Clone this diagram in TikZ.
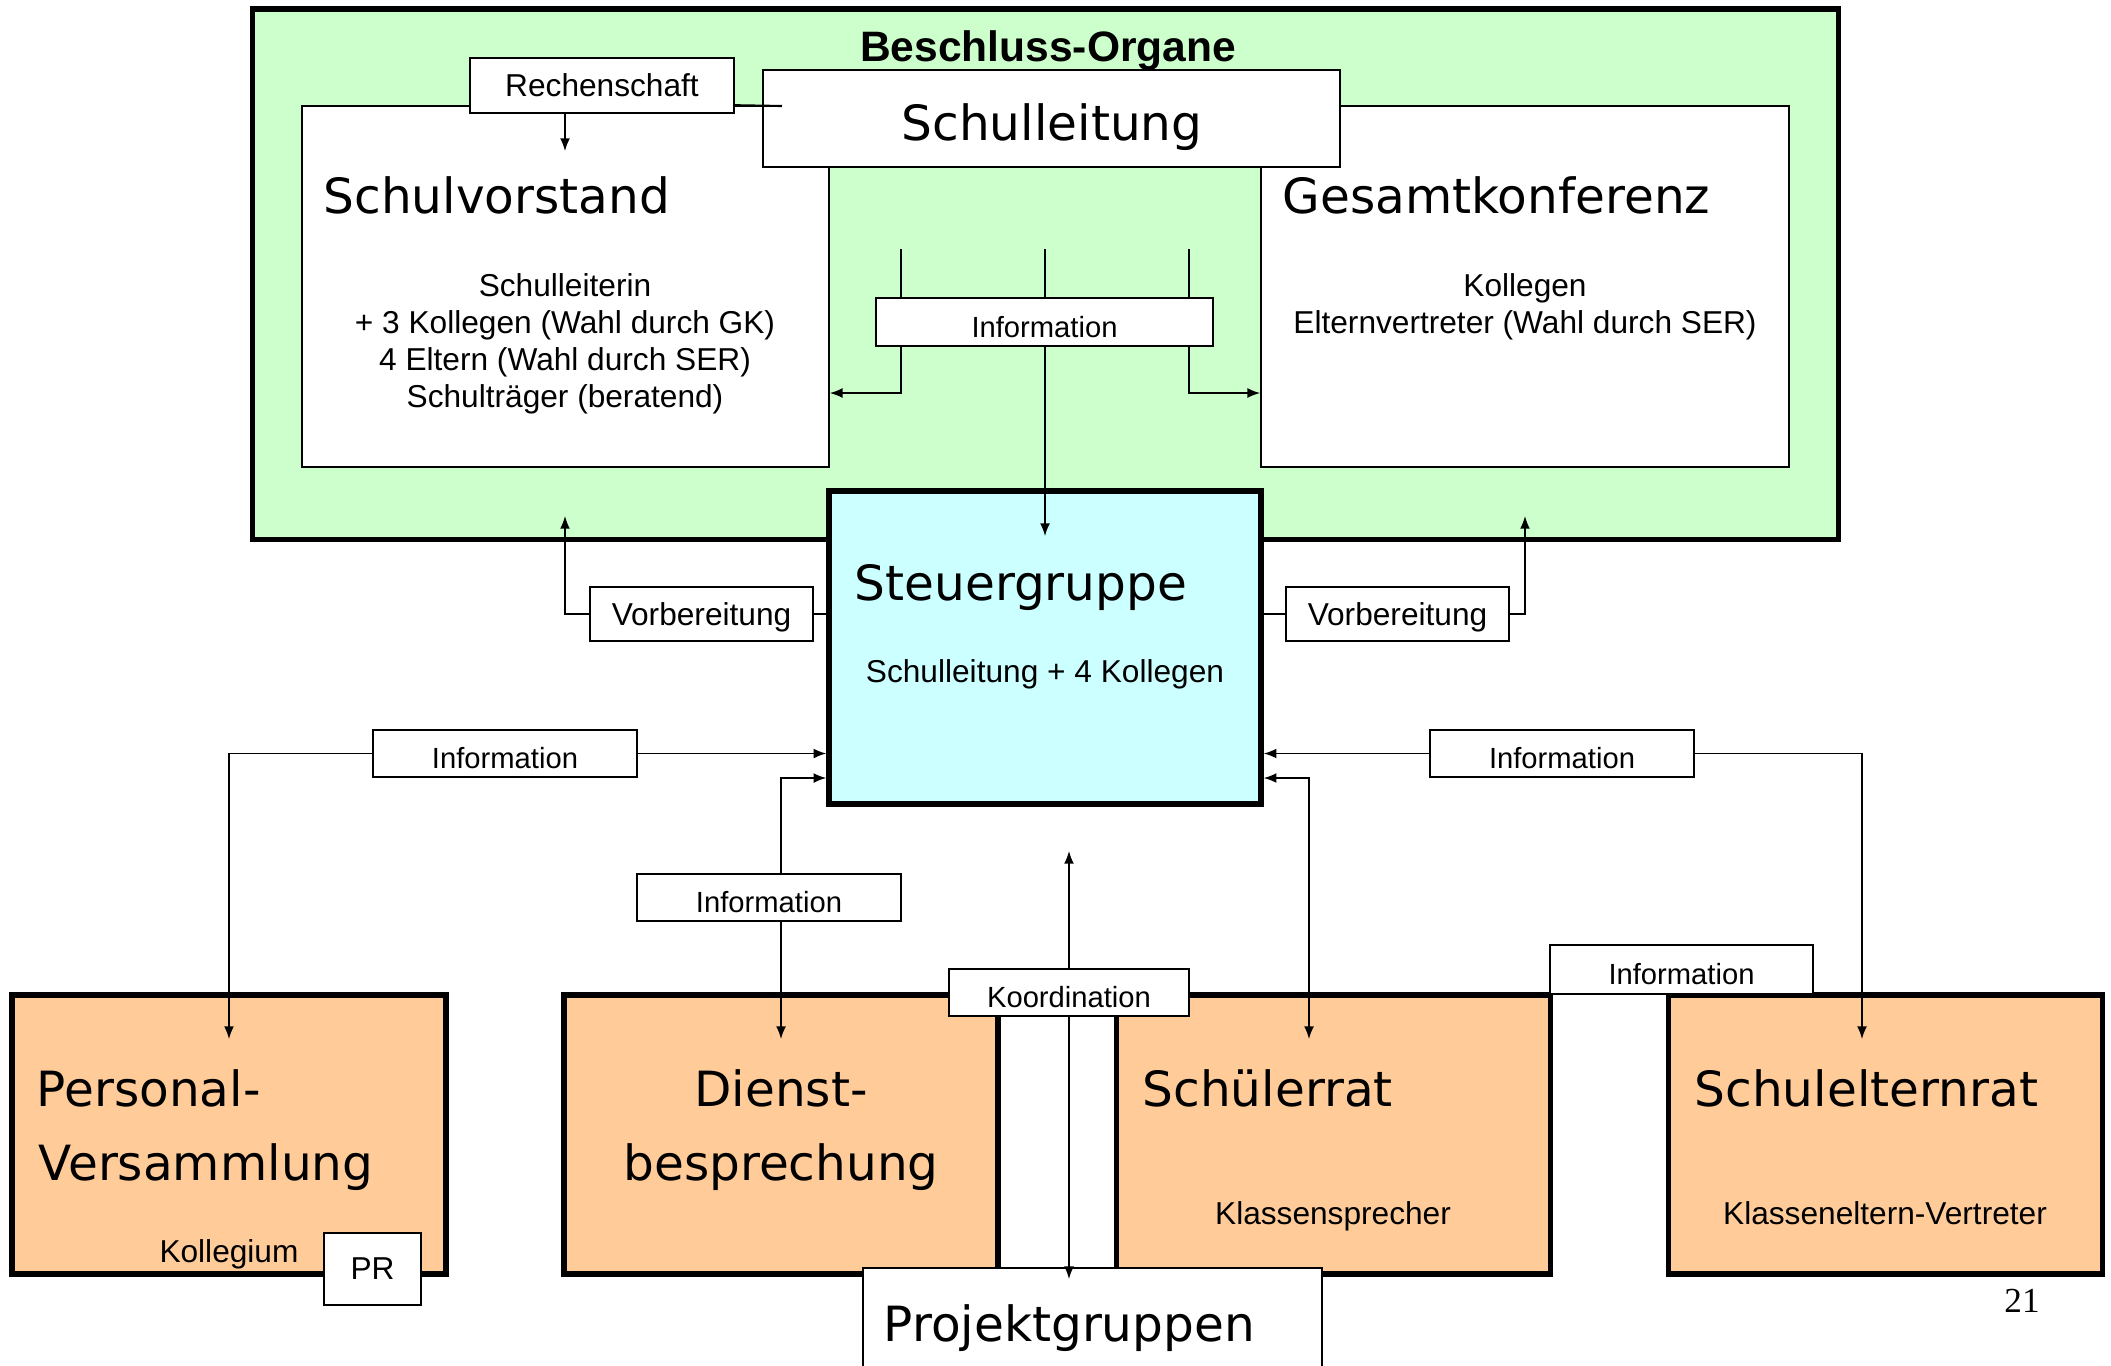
\documentclass[tikz,border=0pt]{standalone}
\usepackage{fontspec}
\setmainfont{Liberation Sans}
\newfontfamily\comicfont{DejaVu Sans}
\newfontfamily\zahlfont{Liberation Serif}
\usetikzlibrary{arrows.meta}

\definecolor{gruen}{HTML}{CCFFCC}
\definecolor{hellblau}{HTML}{CCFFFF}
\definecolor{pfirsich}{HTML}{FFCC99}

\tikzset{
 organ/.style={draw, fill=white, inner sep=0pt},
 gremium/.style={draw, line width=1.5pt, inner sep=0pt},
 kasten/.style={draw, fill=white, inner sep=0pt, text depth=0pt, font=\fontsize{9pt}{10.5pt}\selectfont},
 info/.style={kasten, minimum width=2.64cm, minimum height=0.47cm, text height=8.6pt, font=\fontsize{8.3pt}{10pt}\selectfont},
 titel/.style={inner sep=0pt, anchor=base west, font=\comicfont\fontsize{13.8pt}{16pt}\selectfont},
 inhalt/.style={inner sep=0pt, align=center, font=\fontsize{9pt}{10.5pt}\selectfont},
}

\begin{document}
\begin{tikzpicture}[x=0.01cm, y=-0.01cm, >={Latex[length=3.6pt,width=2.8pt]}]
 \useasboundingbox (0,0) rectangle (2111,1365); %Rand
 % Beschluss-Organe
 \node[gremium, fill=gruen, minimum width=15.85cm, minimum height=5.30cm] (BO) at (1045.5,274) {}; %gruener Rahmen
 \node[inner sep=0pt, anchor=base, font=\bfseries\fontsize{12.1pt}{14pt}\selectfont] (BOtitel) at (1048,61) {Beschluss-Organe};
 \node[organ, minimum width=5.27cm, minimum height=3.61cm] (SV) at (565.5,286.5) {}; %Schulvorstand
 \node[titel] (SVtitel) at (323,213) {Schulvorstand};
 \node[inhalt, anchor=north] (SVtext) at (565,273) {Schulleiterin\\+ 3 Kollegen (Wahl durch GK)\\4 Eltern (Wahl durch SER)\\Schultr\"ager (beratend)};
 \node[organ, minimum width=5.28cm, minimum height=3.61cm] (GK) at (1525,286.5) {}; %Gesamtkonferenz
 \node[titel] (GKtitel) at (1282,213) {Gesamtkonferenz};
 \node[inhalt, anchor=north] (GKtext) at (1525,273) {Kollegen\\Elternvertreter (Wahl durch SER)};
 \node[kasten, minimum width=2.64cm, minimum height=0.55cm] (RS) at (602,85.5) {Rechenschaft};
 \node[organ, minimum width=5.77cm, minimum height=0.97cm] (SL) at (1051.5,118.5) {}; %Schulleitung
 \node[titel, anchor=base] (SLtitel) at (1052,140) {Schulleitung};
 \coordinate (stub) at (782,106); %Ende Strich
 \draw[semithick] (RS.east |- SV.north) -- (stub);
 \coordinate (RSpfeil) at (565,151); %Pfeil Rechenschaft
 \draw[->] (RS.south -| RSpfeil) -- (RSpfeil);
 % Information oben
 \node[info, minimum width=3.37cm, minimum height=0.48cm] (InfoO) at (1044.5,322) {Information};
 \coordinate (Ol) at (901,249); %links
 \coordinate (Om) at (1045,249); %Mitte
 \coordinate (Or) at (1189,249); %rechts
 \draw (Ol) -- (InfoO.north -| Ol);
 \draw (Om) -- (InfoO.north -| Om);
 \draw (Or) -- (InfoO.north -| Or);
 \draw[->] (InfoO.south -| Ol) |- (SV.east |- 0,393);
 \draw[->] (InfoO.south -| Or) |- (GK.west |- 0,393);
 % Steuergruppe
 \node[gremium, fill=hellblau, minimum width=4.32cm, minimum height=3.13cm] (SG) at (1045,647.5) {};
 \node[titel] (SGtitel) at (854,600) {Steuergruppe};
 \node[inhalt, anchor=base] (SGtext) at (1045,682) {Schulleitung + 4 Kollegen};
 \coordinate (SGpfeil) at (1045,536); %Pfeilspitze
 \draw[->] (InfoO.south -| Om) -- (SGpfeil);
 % Vorbereitung
 \node[kasten, minimum width=2.23cm, minimum height=0.54cm] (VL) at (701.5,614) {Vorbereitung};
 \node[kasten, minimum width=2.23cm, minimum height=0.54cm] (VR) at (1397.5,614) {Vorbereitung};
 \coordinate (SVauf) at (565,516); %Pfeil links
 \coordinate (GKauf) at (1525,516); %Pfeil rechts
 \draw (VL.east) -- (VL.east -| SG.west);
 \draw[->] (VL.west) -| (SVauf);
 \draw (VR.west) -- (VR.west -| SG.east);
 \draw[->] (VR.east) -| (GKauf);
 % untere Gremien
 \node[gremium, fill=pfirsich, minimum width=4.34cm, minimum height=2.79cm] (PV) at (229,1134.5) {};
 \node[gremium, fill=pfirsich, minimum width=4.34cm, minimum height=2.79cm] (DB) at (781,1134.5) {};
 \node[gremium, fill=pfirsich, minimum width=4.34cm, minimum height=2.79cm] (SR) at (1333.5,1134.5) {};
 \node[gremium, fill=pfirsich, minimum width=4.34cm, minimum height=2.79cm] (SE) at (1885.5,1134.5) {};
 \node[titel] (PVtitel) at (36,1106) {Personal-};
 \node[titel] (PVtitel2) at (38,1180) {Versammlung};
 \node[inhalt, anchor=base] (PVtext) at (229,1262) {Kollegium};
 \node[titel, anchor=base] (DBtitel) at (781,1106) {Dienst-};
 \node[titel, anchor=base] (DBtitel2) at (781,1180) {besprechung};
 \node[titel] (SRtitel) at (1142,1106) {Sch\"ulerrat};
 \node[inhalt, anchor=base] (SRtext) at (1333,1224) {Klassensprecher};
 \node[titel] (SEtitel) at (1694,1106) {Schulelternrat};
 \node[inhalt, anchor=base] (SEtext) at (1885,1224) {Klasseneltern-Vertreter};
 \node[kasten, minimum width=0.97cm, minimum height=0.72cm] (PR) at (372.5,1269) {PR};
 % Information unten
 \node[info] (InfoL) at (505,753.5) {Information};
 \node[info] (InfoD) at (769,897.5) {Information};
 \node[info] (InfoR) at (1562,753.5) {Information};
 \node[info, minimum width=2.63cm, minimum height=0.49cm] (InfoS) at (1681.5,969.5) {Information};
 \coordinate (PVpfeil) at (229,1039); %Personal
 \coordinate (DBpfeil) at (781,1039); %Dienst
 \coordinate (SRpfeil) at (1309,1039); %Schuelerrat
 \coordinate (SEpfeil) at (1862,1039); %Schulelternrat
 \draw[->] (InfoL.east) -- (InfoL.east -| SG.west);
 \draw[->] (InfoL.west) -| (PVpfeil);
 \draw[->] (InfoD.north -| DB.north) |- (SG.west |- 0,778);
 \draw[->] (InfoD.south -| DB.north) -- (DBpfeil);
 \draw[->] (InfoR.west) -- (InfoR.west -| SG.east);
 \draw[->] (InfoR.east) -| (SEpfeil);
 \draw[<->] (SRpfeil) |- (SG.east |- 0,778);
 % Koordination
 \node[info, minimum width=2.40cm] (KO) at (1069,992.5) {Koordination};
 \node[organ, minimum width=4.59cm, minimum height=1.14cm] (PG) at (1092.5,1325) {}; %Projektgruppen
 \node[titel] (PGtitel) at (883,1341) {Projektgruppen};
 \coordinate (KOauf) at (1069,851); %oben
 \coordinate (PGpfeil) at (1069,1279); %unten
 \draw[->] (KO.north) -- (KOauf);
 \draw[->] (KO.south) -- (PGpfeil);
 \node[inner sep=0pt, anchor=base, font=\zahlfont\fontsize{10pt}{12pt}\selectfont] (seite) at (2022,1312) {21}; %Seitenzahl
\end{tikzpicture}
\end{document}
